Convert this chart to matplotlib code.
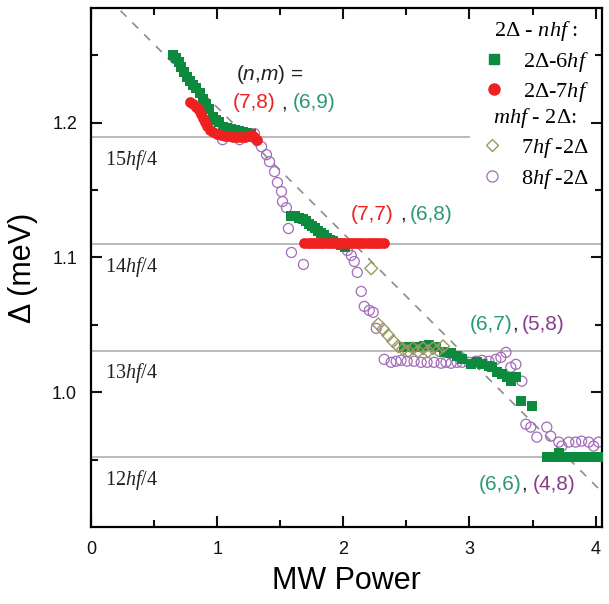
import matplotlib
matplotlib.use("Agg")
import matplotlib.pyplot as plt
from matplotlib.lines import Line2D
from matplotlib.ticker import MultipleLocator, FixedLocator, FormatStrFormatter

plt.rcParams['font.family'] = ['Liberation Sans', 'DejaVu Sans']
plt.rcParams['mathtext.fontset'] = 'custom'
plt.rcParams['mathtext.rm'] = 'Liberation Serif'
plt.rcParams['mathtext.it'] = 'Liberation Serif:italic'
plt.rcParams['mathtext.sf'] = 'Liberation Sans:italic'

# ---- data -----------------------------------------------------------------
# 2Δ-6hf (green squares)
g6_x = [0.648, 0.672, 0.696, 0.711, 0.735, 0.759, 0.783, 0.806, 0.830, 0.862,
        0.885, 0.909, 0.933, 0.964, 0.988, 1.012, 1.043, 1.075, 1.107, 1.138,
        1.170, 1.202, 1.233, 1.265,
        1.589, 1.621, 1.652, 1.684, 1.708, 1.731, 1.755, 1.779, 1.802, 1.826,
        1.850, 1.874, 1.897, 1.921, 1.953, 1.984, 2.016,
        2.482, 2.538, 2.585, 2.640, 2.680, 2.735, 2.798, 2.854, 2.901, 2.941,
        3.012, 3.059, 3.099, 3.154, 3.178, 3.217, 3.257, 3.296, 3.328, 3.368,
        3.407, 3.494,
        3.613, 3.668, 3.708, 3.747, 3.802, 3.858, 3.913, 3.968, 4.024]
g6_y = [1.2504, 1.2481, 1.2452, 1.2415, 1.2378, 1.2341, 1.2311, 1.2281, 1.2259, 1.2222,
        1.2178, 1.2141, 1.2104, 1.2044, 1.2022, 1.2007, 1.1970, 1.1963, 1.1956, 1.1948,
        1.1941, 1.1933, 1.1926, 1.1919,
        1.1304, 1.1304, 1.1296, 1.1289, 1.1267, 1.1252, 1.1237, 1.1215, 1.1200, 1.1185,
        1.1170, 1.1148, 1.1133, 1.1119, 1.1104, 1.1089, 1.1081,
        1.0333, 1.0333, 1.0333, 1.0341, 1.0348, 1.0333, 1.0296, 1.0289, 1.0267, 1.0244,
        1.0207, 1.0222, 1.0207, 1.0193, 1.0185, 1.0148, 1.0133, 1.0111, 1.0081, 1.0111,
        0.9933, 0.9896,
        0.9519, 0.9519, 0.9548, 0.9519, 0.9519, 0.9519, 0.9519, 0.9519, 0.9519]

# 2Δ-7hf (red circles)
r7_x = [0.783, 0.806, 0.830, 0.854, 0.870, 0.885, 0.901, 0.917, 0.941, 0.964,
        0.996, 1.028, 1.059, 1.091, 1.123, 1.154, 1.186, 1.217, 1.249, 1.273,
        1.296, 1.312,
        1.692, 1.717, 1.742, 1.767, 1.792, 1.817, 1.842, 1.867, 1.892, 1.917,
        1.942, 1.967, 1.992, 2.017, 2.042, 2.067, 2.092, 2.117, 2.142, 2.167,
        2.192, 2.217, 2.242, 2.267, 2.292, 2.320]
r7_y = [1.2156, 1.2141, 1.2119, 1.2096, 1.2067, 1.2037, 1.2007, 1.1978, 1.1948, 1.1933,
        1.1919, 1.1911, 1.1904, 1.1904, 1.1896, 1.1896, 1.1896, 1.1896, 1.1904, 1.1911,
        1.1896, 1.1874,
        1.1104, 1.1104, 1.1104, 1.1104, 1.1104, 1.1104, 1.1104, 1.1104, 1.1104, 1.1104,
        1.1104, 1.1104, 1.1104, 1.1104, 1.1104, 1.1104, 1.1104, 1.1104, 1.1104, 1.1104,
        1.1104, 1.1104, 1.1104, 1.1104, 1.1104, 1.1104]

# 7hf-2Δ (olive diamonds)
d7_x = [2.221, 2.277, 2.316, 2.356, 2.395, 2.435, 2.474, 2.514, 2.553, 2.593,
        2.632, 2.672, 2.711, 2.751, 2.791]
d7_y = [1.0919, 1.0504, 1.0467, 1.0422, 1.0378, 1.0341, 1.0319, 1.0304, 1.0326, 1.0304,
        1.0326, 1.0304, 1.0326, 1.0311, 1.0341]

# 8hf-2Δ (purple open circles)
p8_x = [1.043, 1.178, 1.296, 1.352, 1.391, 1.415, 1.455, 1.478, 1.510, 1.518,
        1.549, 1.565, 1.589, 1.684, 2.032, 2.063, 2.087, 2.111, 2.142, 2.166,
        2.206, 2.237, 2.261, 2.324, 2.379, 2.419, 2.458, 2.506, 2.561, 2.617,
        2.664, 2.719, 2.775, 2.814, 2.854, 2.901, 2.941, 2.996, 3.051, 3.099,
        3.154, 3.209, 3.249, 3.289, 3.328, 3.368, 3.415, 3.447, 3.486, 3.534,
        3.613, 3.644, 3.708, 3.731, 3.787, 3.842, 3.889, 3.945, 3.984, 4.024]
p8_y = [1.1874, 1.1874, 1.1919, 1.1822, 1.1763, 1.1711, 1.1637, 1.1556, 1.1489, 1.1415,
        1.1370, 1.1215, 1.1037, 1.0948, 1.1052, 1.1015, 1.0970, 1.0889, 1.0748, 1.0637,
        1.0607, 1.0593, 1.0474, 1.0244, 1.0222, 1.0230, 1.0237, 1.0230, 1.0230, 1.0222,
        1.0222, 1.0222, 1.0215, 1.0222, 1.0215, 1.0222, 1.0222, 1.0222, 1.0230, 1.0237,
        1.0230, 1.0244, 1.0259, 1.0296, 1.0185, 1.0207, 1.0082, 0.9763, 0.9741, 0.9667,
        0.9741, 0.9674, 0.9630, 0.9600, 0.9630, 0.9630, 0.9637, 0.9630, 0.9600, 0.9630]

# reference levels n*hf/4
hf_quarter = 0.0793
level_n = [15, 14, 13, 12]
level_xmax = [3.0, 4.05, 4.05, 4.05]

# guide line through the data
guide_x = [0.0, 4.05]
guide_y = [1.305, 0.926]

y_major = [1.0, 1.1, 1.2]
y_minor = [0.95, 1.05, 1.15, 1.25]

# ---- colours ----------------------------------------------------------------
GREEN = '#0c8a3e'
RED = '#ee2020'
OLIVE = '#9a9a60'
PURPLE = '#a26cb8'
TXT_GREEN = '#2a9a6e'
TXT_PURPLE = '#8a3c8c'

fig = plt.figure(figsize=(6.09, 6.04), dpi=100)
ax = fig.add_axes([0.1494, 0.1275, 0.839, 0.859])

for n, xm in zip(level_n, level_xmax):
    ax.plot([0, xm], [n * hf_quarter] * 2, color='#b4b4b4', lw=1.3, zorder=1)
    ax.text(0.11, n * hf_quarter - 0.017, f'{n}$hf$/4', fontsize=14.5,
            family='Liberation Serif', va='center', ha='left', color='#222222')

ax.plot(guide_x, guide_y, color='#8c8c8c', lw=1.2, ls=(0, (5, 5)), zorder=1.5)

ax.scatter(p8_x, p8_y, s=52, facecolors='none', edgecolors=PURPLE,
           linewidths=0.9, zorder=2)
ax.scatter(g6_x, g6_y, s=42, marker='s', color=GREEN, linewidths=0, zorder=3)
ax.scatter(d7_x, d7_y, s=42, marker='D', facecolors='none', edgecolors=OLIVE,
           linewidths=1.0, zorder=4)
ax.scatter(r7_x, r7_y, s=60, marker='o', color=RED, linewidths=0, zorder=5)

ax.set_xlim(0, 4.05)
ax.set_ylim(0.90, 1.285)
ax.xaxis.set_major_locator(MultipleLocator(1))
ax.xaxis.set_minor_locator(MultipleLocator(0.5))
ax.yaxis.set_major_locator(FixedLocator(y_major))
ax.yaxis.set_minor_locator(FixedLocator(y_minor))
ax.yaxis.set_major_formatter(FormatStrFormatter('%.1f'))
ax.tick_params(which='both', direction='in', top=True, right=True, width=1.5,
               labelsize=13, pad=10, colors='#111111')
ax.tick_params(which='major', length=8)
ax.tick_params(which='minor', length=5)
for s in ax.spines.values():
    s.set_linewidth(1.6)

ax.set_xlabel('MW Power', fontsize=22, labelpad=6)
ax.set_ylabel('Δ (meV)', fontsize=22, labelpad=10)

# (n,m) labels
ann = dict(fontsize=15, ha='center', va='center')
ax.text(1.415, 1.2356, r'($\mathsf{n}$,$\mathsf{m}$) =', color='#222222', **ann)
ax.text(1.296, 1.2148, '(7,8)', color=RED, **ann)
ax.text(1.53, 1.2148, ',', color='#222222', **ann)
ax.text(1.771, 1.2148, '(6,9)', color=TXT_GREEN, **ann)
ax.text(2.229, 1.1319, '(7,7)', color=RED, **ann)
ax.text(2.47, 1.1319, ',', color='#222222', **ann)
ax.text(2.696, 1.1319, '(6,8)', color=TXT_GREEN, **ann)
ax.text(3.17, 1.0504, '(6,7)', color=TXT_GREEN, **ann)
ax.text(3.36, 1.0504, ',', color='#222222', **ann)
ax.text(3.58, 1.0504, '(5,8)', color=TXT_PURPLE, **ann)
ax.text(3.24, 0.9319, '(6,6)', color=TXT_GREEN, **ann)
ax.text(3.43, 0.9319, ',', color='#222222', **ann)
ax.text(3.67, 0.9319, '(4,8)', color=TXT_PURPLE, **ann)

# legends
leg_font = dict(family='Liberation Serif', size=16)
h1 = [Line2D([], [], ls='none', marker='s', ms=7, color=GREEN),
      Line2D([], [], ls='none', marker='o', ms=8, color=RED)]
h2 = [Line2D([], [], ls='none', marker='D', ms=6, mfc='none', mec=OLIVE, mew=1.0),
      Line2D([], [], ls='none', marker='o', ms=8, mfc='none', mec=PURPLE, mew=0.9)]
leg_kw = dict(loc='upper right', frameon=False, prop=leg_font,
              title_fontproperties=leg_font, handletextpad=0.8,
              labelspacing=0.3, borderaxespad=0.2, handlelength=1.0)
leg1 = ax.legend(h1, ['2Δ-6$hf$', '2Δ-7$hf$'], title='2Δ - $nhf$ :',
                 bbox_to_anchor=(1.0, 1.005), **leg_kw)
ax.add_artist(leg1)
ax.legend(h2, ['7$hf$ -2Δ', '8$hf$ -2Δ'], title='$mhf$ - 2Δ:',
          bbox_to_anchor=(1.0, 0.838), **leg_kw)

fig.savefig('out.png', dpi=100)
